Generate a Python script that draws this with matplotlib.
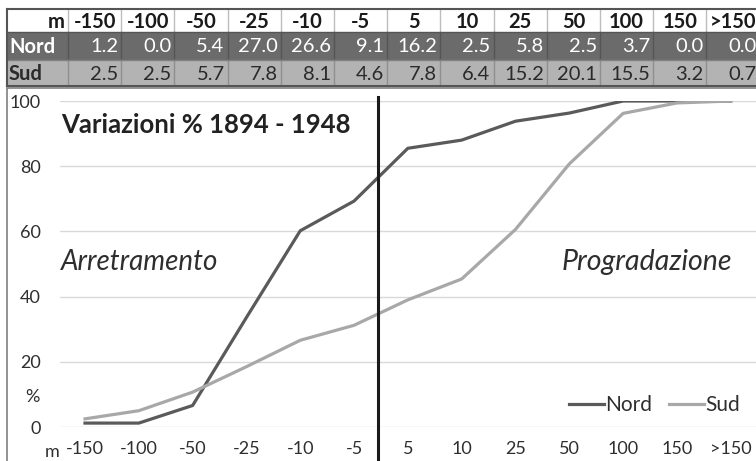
import matplotlib
matplotlib.use("Agg")
import matplotlib.pyplot as plt
from matplotlib.patches import Rectangle
from matplotlib.lines import Line2D
import matplotlib.transforms as mtransforms

plt.rcParams["font.family"] = ["Lato", "DejaVu Sans"]

# categorie (m) e valori della tabella
categories = ["-150", "-100", "-50", "-25", "-10", "-5", "5", "10", "25", "50", "100", "150", ">150"]
nord_pct = [1.2, 0.0, 5.4, 27.0, 26.6, 9.1, 16.2, 2.5, 5.8, 2.5, 3.7, 0.0, 0.0]
sud_pct = [2.5, 2.5, 5.7, 7.8, 8.1, 4.6, 7.8, 6.4, 15.2, 20.1, 15.5, 3.2, 0.7]

# curve cumulative
nord_cum = [1.2, 1.2, 6.6, 33.6, 60.2, 69.3, 85.5, 88.0, 93.8, 96.3, 100.0, 100.0, 100.0]
sud_cum = [2.5, 5.0, 10.7, 18.5, 26.6, 31.2, 39.0, 45.4, 60.6, 80.7, 96.2, 99.4, 100.0]

yticks = [0, 20, 40, 60, 80, 100]

NORD_COL = "#5a5a5a"
SUD_COL = "#a8a8a8"
TXT = "#2e2e2e"

W, H = 756, 461
fig = plt.figure(figsize=(W / 100, H / 100), dpi=100)

# background axes in pixel coordinates (table + frame)
bg = fig.add_axes([0, 0, 1, 1])
bg.set_xlim(0, W)
bg.set_ylim(H, 0)
bg.axis("off")

# chart frame
bg.add_patch(Rectangle((7, 88), W, H, facecolor="white", edgecolor="#7f7f7f", lw=1.2))

# table
col0_left, col0_right = 7, 68
col_w = 53.2
rows = [(9, 32), (32, 60), (60, 86)]
row_bg = ["white", "#6b6b6b", "#b3b3b3"]
row_fg = ["#1a1a1a", "white", "#2a2a2a"]
row_names = ["m", "Nord", "Sud"]
row_vals = [categories, [f"{v:.1f}" for v in nord_pct], [f"{v:.1f}" for v in sud_pct]]
sep_col = ["#bdbdbd", "#555555", "#8f8f8f"]
tfs = 14.5

for r, (y0, y1) in enumerate(rows):
    bg.add_patch(Rectangle((col0_left, y0), W - col0_left + 10, y1 - y0,
                           facecolor=row_bg[r], edgecolor="none"))
    yc = (y0 + y1) / 2 + 1
    if r == 0:
        bg.text(col0_right - 3, yc, row_names[r], ha="right", va="center",
                fontsize=tfs, fontweight="bold", color=row_fg[r])
    else:
        bg.text(col0_left + 2, yc, row_names[r], ha="left", va="center",
                fontsize=tfs, fontweight="bold", color=row_fg[r])
    for i, val in enumerate(row_vals[r]):
        left = col0_right + i * col_w
        right = left + col_w
        if r == 0:
            bg.text((left + right) / 2, yc, val, ha="center", va="center",
                    fontsize=tfs, fontweight="bold", color=row_fg[r])
        else:
            bg.text(right - 3, yc, val, ha="right", va="center",
                    fontsize=tfs, color=row_fg[r])
        bg.plot([left, left], [y0, y1], color=sep_col[r], lw=1)

# table outer lines
bg.plot([col0_left, W], [rows[0][0], rows[0][0]], color="#555555", lw=1.5)
bg.plot([col0_left, W], [rows[2][1], rows[2][1]], color="#555555", lw=1.5)
bg.plot([col0_left, W], [rows[1][0], rows[1][0]], color="#555555", lw=1)
bg.plot([col0_left, W], [rows[2][0], rows[2][0]], color="#808080", lw=1)
bg.plot([col0_left, col0_left], [rows[0][0], rows[2][1]], color="#555555", lw=1.5)

# chart axes
ax_left, ax_right, ax_top, ax_bottom = 60, 756, 101, 427
ax = fig.add_axes([ax_left / W, (H - ax_bottom) / H,
                   (ax_right - ax_left) / W, (ax_bottom - ax_top) / H])
ax.set_facecolor("none")

x = list(range(len(categories)))
ax.plot(x, nord_cum, color=NORD_COL, lw=2.3, solid_joinstyle="round", zorder=3)
ax.plot(x, sud_cum, color=SUD_COL, lw=2.3, solid_joinstyle="round", zorder=3)

ax.set_xlim(-0.465, 12.47)
ax.set_ylim(0, 100)
ax.set_yticks(yticks)
ax.set_xticks(x)
ax.set_xticklabels(categories)
for s in ax.spines.values():
    s.set_visible(False)
ax.tick_params(axis="both", length=0, labelsize=13, colors=TXT)
ax.tick_params(axis="y", pad=14)
ax.tick_params(axis="x", pad=10)
ax.grid(axis="y", color="#d9d9d9", lw=1)
ax.set_axisbelow(True)

# vertical separator between -5 and 5
trans = mtransforms.blended_transform_factory(ax.transData, ax.transAxes)
ax.plot([5.45, 5.45], [-0.11, 1.012], transform=trans, color="#1a1a1a",
        lw=2.2, clip_on=False, zorder=4)

# texts
ax.text(-0.445, 92.5, "Variazioni % 1894 - 1948", fontsize=18.5, fontweight="bold",
        color="#222222", ha="left", va="center")
ax.text(-0.445, 50.5, "Arretramento", fontsize=20, style="italic",
        color=TXT, ha="left", va="center")
ax.text(12.02, 50.5, "Progradazione", fontsize=20.5, style="italic",
        color=TXT, ha="right", va="center")
bg.text(40, 397, "%", fontsize=13, color=TXT, ha="right", va="center")
bg.text(60, 452, "m", fontsize=13, color=TXT, ha="right", va="center")

handles = [Line2D([], [], color=NORD_COL, lw=2.3), Line2D([], [], color=SUD_COL, lw=2.3)]
ax.legend(handles, ["Nord", "Sud"], loc="center", bbox_to_anchor=(0.854, 0.067),
          ncol=2, frameon=False, fontsize=15, handlelength=1.7, handletextpad=0.05,
          columnspacing=0.8, labelcolor=TXT)

fig.savefig("out.png", dpi=100)
